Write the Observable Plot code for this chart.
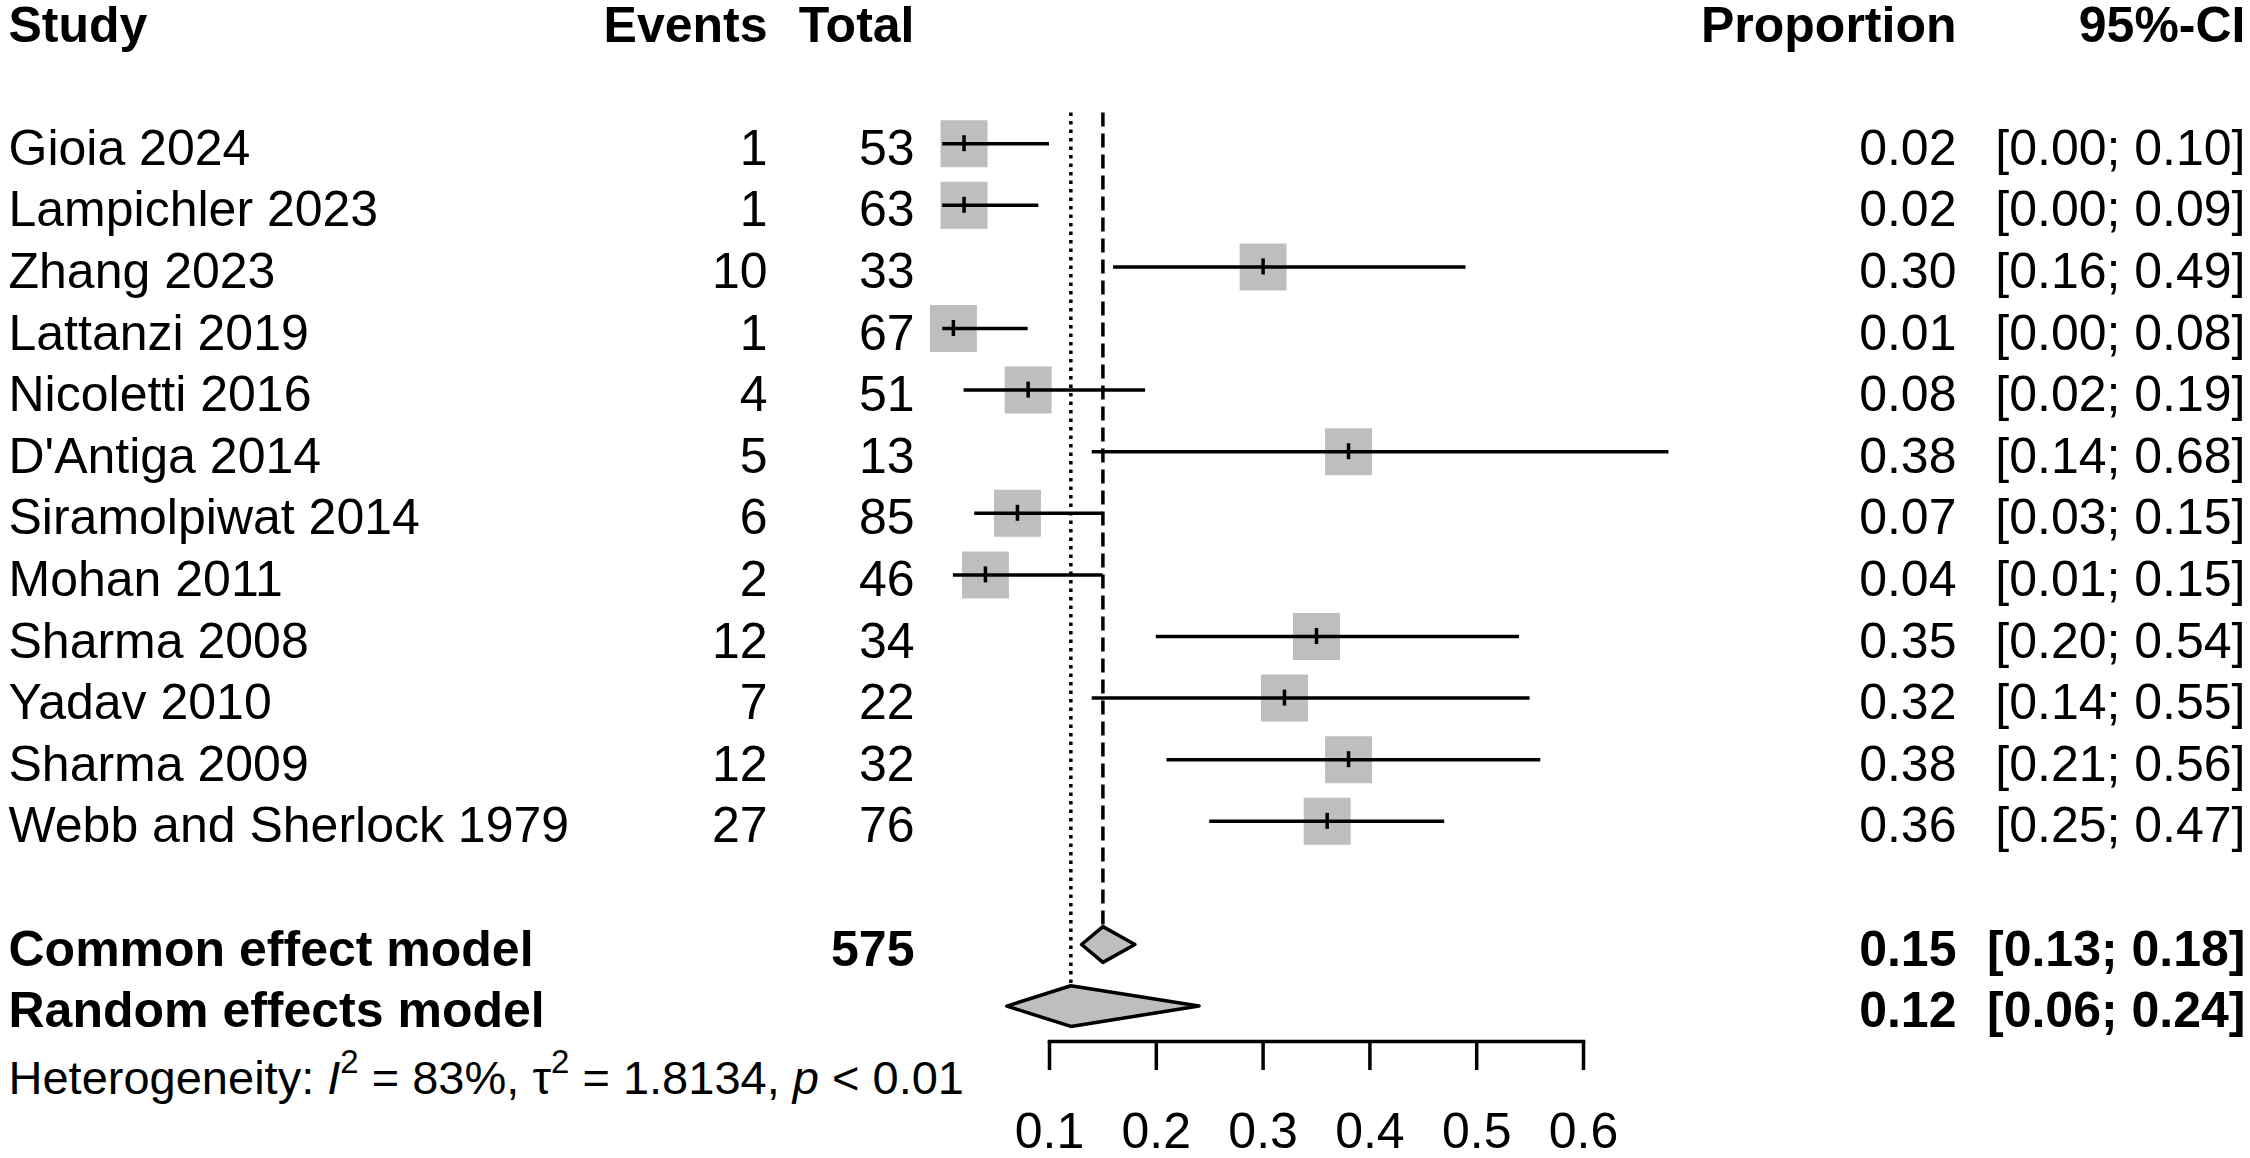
<!DOCTYPE html>
<html>
<head>
<meta charset="utf-8">
<script src="https://cdn.jsdelivr.net/npm/d3@7"></script>
<script src="https://cdn.jsdelivr.net/npm/@observablehq/plot@0.6"></script>
<style>
  html, body { margin: 0; padding: 0; background: white; overflow: hidden; }
  #chart svg { display: block; }
</style>
</head>
<body>
<div id="chart"></div>
<script>
// ---- data ----
const studies = ["Gioia 2024", "Lampichler 2023", "Zhang 2023", "Lattanzi 2019", "Nicoletti 2016",
  "D'Antiga 2014", "Siramolpiwat 2014", "Mohan 2011", "Sharma 2008", "Yadav 2010", "Sharma 2009",
  "Webb and Sherlock 1979"];
const events = [1, 1, 10, 1, 4, 5, 6, 2, 12, 7, 12, 27];
const totals = [53, 63, 33, 67, 51, 13, 85, 46, 34, 22, 32, 76];
const proportion = [0.02, 0.02, 0.30, 0.01, 0.08, 0.38, 0.07, 0.04, 0.35, 0.32, 0.38, 0.36];
const ciLower = [0.00, 0.00, 0.16, 0.00, 0.02, 0.14, 0.03, 0.01, 0.20, 0.14, 0.21, 0.25];
const ciUpper = [0.10, 0.09, 0.49, 0.08, 0.19, 0.68, 0.15, 0.15, 0.54, 0.55, 0.56, 0.47];

const models = ["Common effect model", "Random effects model"];
const modelTotal = [575, null];
const modelEst = [0.15, 0.12];
const modelLower = [0.13, 0.06];
const modelUpper = [0.18, 0.24];

const headers = ["Study", "Events", "Total", "Proportion", "95%-CI"];
const xTicks = [0.1, 0.2, 0.3, 0.4, 0.5, 0.6];
const hetI2 = "83%";
const hetTau2 = "1.8134";
const hetP = "< 0.01";

// ---- table rows ----
const rows = studies.map((s, i) => ({
  study: s, events: events[i], total: totals[i], est: proportion[i], lo: ciLower[i], hi: ciUpper[i], row: i
}));
const diamondHalf = [0.29, 0.33];
const summ = models.map((m, i) => ({
  model: m, total: modelTotal[i], est: modelEst[i], lo: modelLower[i], hi: modelUpper[i],
  row: studies.length + 1 + i, h: diamondHalf[i]
}));
const headerRow = -2;
const hetRow = summ[summ.length - 1].row + 1;

const diamondPts = summ.flatMap(d => [
  {m: d.model, x: d.lo, y: d.row},
  {m: d.model, x: d.est, y: d.row - d.h},
  {m: d.model, x: d.hi, y: d.row},
  {m: d.model, x: d.est, y: d.row + d.h}
]);

const fontFamily = "'Liberation Sans', Arial, Helvetica, sans-serif";
const FS = 50;
const grey = "#bebebe";
const fmt = v => v.toFixed(2);
const ciStr = d => `[${fmt(d.lo)}; ${fmt(d.hi)}]`;

// column placement (offsets from the plot frame edges)
const col = {
  study: {frameAnchor: "left", dx: -1041, textAnchor: "start"},
  events: {frameAnchor: "left", dx: -282, textAnchor: "end"},
  total: {frameAnchor: "left", dx: -135, textAnchor: "end"},
  prop: {frameAnchor: "right", dx: 373, textAnchor: "end"},
  ci: {frameAnchor: "right", dx: 662, textAnchor: "end"}
};
const txt = {fontSize: FS, fill: "black", lineAnchor: "middle", dy: 5};
const bold = {...txt, fontWeight: "bold"};

const headerData = headers.map((h, i) => ({h, key: ["study", "events", "total", "prop", "ci"][i], row: headerRow}));

const LW = 3.5;
const marks = [
  // reference lines (random: dotted, common: dashed)
  Plot.ruleX([summ[1]], {x: "est", y1: () => -0.5, y2: d => d.row - d.h, stroke: "black", strokeWidth: LW, strokeDasharray: "3.5,5"}),
  Plot.ruleX([summ[0]], {x: "est", y1: () => -0.5, y2: d => d.row - d.h, stroke: "black", strokeWidth: LW, strokeDasharray: "14,7"}),
  // study squares, CI lines, estimate ticks
  Plot.dot(rows, {x: "est", y: "row", symbol: "square", r: 26.5, fill: grey, stroke: null}),
  Plot.ruleY(rows, {y: "row", x1: "lo", x2: "hi", stroke: "black", strokeWidth: LW}),
  Plot.ruleX(rows, {x: "est", y1: "row", y2: "row", insetTop: -8, insetBottom: -8, stroke: "black", strokeWidth: LW}),
  // summary diamonds
  Plot.line(diamondPts, {x: "x", y: "y", z: "m", curve: "linear-closed", fill: grey, stroke: "black", strokeWidth: LW}),
  // x axis
  Plot.frame({anchor: "bottom", stroke: "black", strokeWidth: LW}),
  Plot.axisX(xTicks, {anchor: "bottom", tickSize: 29, tickPadding: 42, fontSize: FS, strokeWidth: LW, label: null, tickFormat: d => String(d)}),
  // headers
  ...headerData.map(d => Plot.text([d], {y: "row", text: "h", ...col[d.key], ...bold})),
  // study rows
  Plot.text(rows, {y: "row", text: "study", ...col.study, ...txt}),
  Plot.text(rows, {y: "row", text: "events", ...col.events, ...txt}),
  Plot.text(rows, {y: "row", text: "total", ...col.total, ...txt}),
  Plot.text(rows, {y: "row", text: d => fmt(d.est), ...col.prop, ...txt}),
  Plot.text(rows, {y: "row", text: ciStr, ...col.ci, ...txt}),
  // summary rows
  Plot.text(summ, {y: "row", text: "model", ...col.study, ...bold}),
  Plot.text(summ.filter(d => d.total != null), {y: "row", text: "total", ...col.total, ...bold}),
  Plot.text(summ, {y: "row", text: d => fmt(d.est), ...col.prop, ...bold}),
  Plot.text(summ, {y: "row", text: ciStr, ...col.ci, ...bold}),
  // heterogeneity
  Plot.text([{row: hetRow}], {y: "row", text: () => `Heterogeneity: I2 = ${hetI2}, τ2 = ${hetTau2}, p ${hetP}`,
    ...col.study, ...txt, fontSize: 47, dy: 11})
];

const chart = Plot.plot({
  width: 2250,
  height: 1158,
  marginLeft: 1049,
  marginRight: 667,
  marginTop: 0,
  marginBottom: 117,
  style: {fontFamily, background: "white", color: "black", overflow: "visible"},
  x: {domain: [xTicks[0], xTicks[xTicks.length - 1]], axis: null},
  y: {domain: [-2, 17], range: [20, 1190.4], axis: null},
  marks
});
document.getElementById("chart").appendChild(chart);

// rich text for the heterogeneity line (italic I and p, superscript 2)
const het = d3.select(chart).selectAll("text")
  .filter(function() { return this.textContent.startsWith("Heterogeneity"); });
if (!het.empty()) {
  het.text(null);
  const parts = [
    {t: "Heterogeneity: "},
    {t: "I", it: true},
    {t: "2", sup: true},
    {t: ` = ${hetI2}, `, back: true},
    {t: "τ"},
    {t: "2", sup: true},
    {t: ` = ${hetTau2}, `, back: true},
    {t: "p", it: true},
    {t: ` ${hetP}`}
  ];
  for (const p of parts) {
    const ts = het.append("tspan").text(p.t);
    if (p.it) ts.attr("font-style", "italic");
    if (p.sup) ts.attr("font-size", 33).attr("dy", -21);
    if (p.back) ts.attr("dy", 21);
  }
}
</script>
</body>
</html>
